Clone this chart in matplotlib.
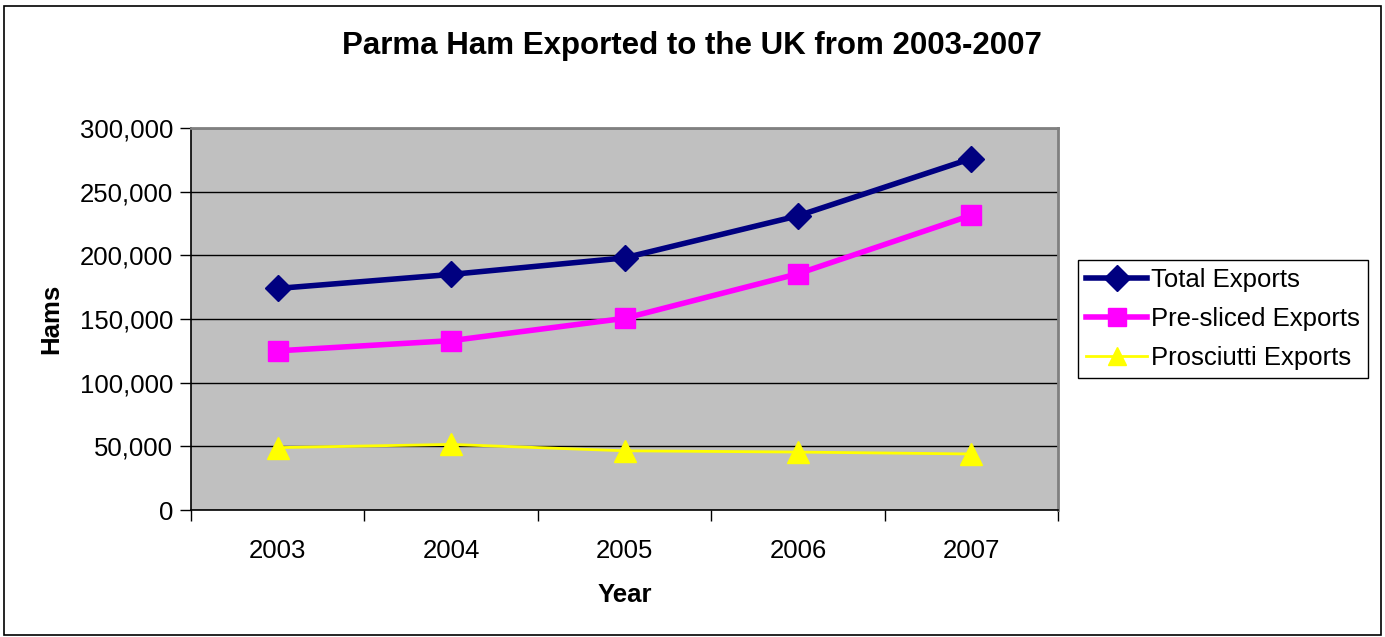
import matplotlib
matplotlib.use("Agg")
import matplotlib.pyplot as plt
from matplotlib.patches import Rectangle
from matplotlib.ticker import FuncFormatter, FixedLocator
import numpy as np

plt.rcParams['font.family'] = ['Liberation Sans', 'DejaVu Sans']

years = ["2003", "2004", "2005", "2006", "2007"]
total_exports = [174000, 185000, 198000, 231000, 276000]
presliced_exports = [125000, 133000, 150500, 185500, 231500]
prosciutti_exports = [49000, 51500, 46500, 45500, 44000]

W, H = 1385, 637
fig = plt.figure(figsize=(W / 100, H / 100), dpi=100)
fig.patch.set_facecolor("white")

# outer chart border
fig.patches.append(Rectangle((4 / W, 2 / H), (W - 8) / W, (H - 8) / H,
                             transform=fig.transFigure, fill=False,
                             edgecolor="black", linewidth=1.2))

left, right, top, bottom = 191, 1058, 128, 510
ax = fig.add_axes([left / W, 1 - bottom / H, (right - left) / W, (bottom - top) / H])
ax.set_facecolor("#C0C0C0")

x = np.arange(len(years))
ax.plot(x, total_exports, color="#000080", linewidth=4, marker="D", markersize=13,
        label="Total Exports", zorder=4)
ax.plot(x, presliced_exports, color="#FF00FF", linewidth=4, marker="s", markersize=14,
        label="Pre-sliced Exports", zorder=4)
ax.plot(x, prosciutti_exports, color="#FFFF00", linewidth=2, marker="^", markersize=16,
        label="Prosciutti Exports", zorder=4)

ax.set_xlim(-0.5, len(years) - 0.5)
ax.set_ylim(0, 300000)
ax.yaxis.set_major_locator(FixedLocator(np.arange(0, 300001, 50000)))
ax.yaxis.set_major_formatter(FuncFormatter(lambda v, p: f"{int(v):,}"))
ax.grid(axis="y", color="black", linewidth=1.0, zorder=1)
ax.set_axisbelow(True)

ax.xaxis.set_major_locator(FixedLocator(np.arange(-0.5, len(years), 1.0)))
ax.xaxis.set_minor_locator(FixedLocator(x))
ax.set_xticklabels([], minor=False)
ax.set_xticks(x, years, minor=True)
ax.tick_params(axis="x", which="major", length=8, width=1, color="black", direction="out")
ax.tick_params(axis="x", which="minor", length=0, pad=21, labelsize=18.5)
ax.tick_params(axis="y", length=8, width=1, direction="out", labelsize=18.5, pad=5)

for s in ["top", "right"]:
    ax.spines[s].set_color("#808080")
    ax.spines[s].set_linewidth(2)
for s in ["left", "bottom"]:
    ax.spines[s].set_color("black")
    ax.spines[s].set_linewidth(1.2)

ax.set_xlabel("Year", fontsize=18.5, fontweight="bold", labelpad=14)
ax.set_ylabel("Hams", fontsize=18.5, fontweight="bold", labelpad=12)

fig.text(692 / W, 1 - 46 / H, "Parma Ham Exported to the UK from 2003-2007",
         ha="center", va="center", fontsize=22.5, fontweight="bold")

leg = ax.legend(loc="center left", bbox_to_anchor=(1078 / W, 1 - 319 / H),
                bbox_transform=fig.transFigure, fontsize=18.5, frameon=True,
                fancybox=False, edgecolor="black", framealpha=1,
                handlelength=2.4, handletextpad=0.15, borderpad=0.3,
                labelspacing=0.6, borderaxespad=0)
leg.get_frame().set_linewidth(1.0)
for h in leg.legend_handles:
    h.set_markersize(13)

fig.savefig("out.png", dpi=100, facecolor="white")
